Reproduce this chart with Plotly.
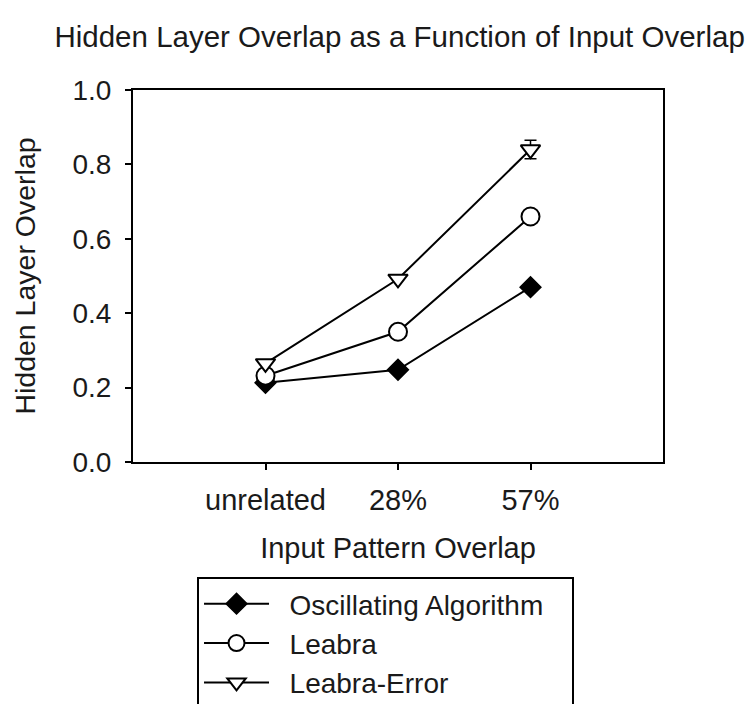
import plotly.graph_objects as go

categories = ["unrelated", "28%", "57%"]
oscillating = [0.213, 0.248, 0.470]
leabra = [0.232, 0.350, 0.660]
leabra_error = [0.265, 0.492, 0.840]
leabra_error_err = [0.0, 0.0, 0.025]
series_names = ["Oscillating Algorithm", "Leabra", "Leabra-Error"]

FONT = "Liberation Sans, Arial, sans-serif"
NB = "\u00a0\u00a0"
xpos = list(range(len(categories)))

fig = go.Figure()
fig.add_trace(go.Scatter(
    x=xpos, y=oscillating, mode="lines+markers", name=NB + series_names[0] + "\u00a0\u00a0\u00a0",
    line=dict(color="black", width=2),
    marker=dict(symbol="diamond", size=16, color="black", line=dict(color="black", width=1.5)),
))
fig.add_trace(go.Scatter(
    x=xpos, y=leabra, mode="lines+markers", name=NB + series_names[1],
    line=dict(color="black", width=2),
    marker=dict(symbol="circle", size=18, color="white", line=dict(color="black", width=2)),
))
fig.add_trace(go.Scatter(
    x=xpos, y=leabra_error, mode="lines+markers", name=NB + series_names[2],
    line=dict(color="black", width=2),
    marker=dict(symbol="triangle-down", size=17, color="white", line=dict(color="black", width=2)),
    error_y=dict(type="data", array=leabra_error_err, visible=True, color="black", thickness=1.5, width=6),
))

fig.update_layout(
    width=747, height=704,
    margin=dict(l=133, r=84, t=90, b=242, autoexpand=False),
    paper_bgcolor="white", plot_bgcolor="white",
    font=dict(family=FONT, color="#1a1a1a", size=28),
    title=dict(text="Hidden Layer Overlap as a Function of Input Overlap",
               x=0.535, xanchor="center", y=0.948, yanchor="middle",
               font=dict(size=29.5, family=FONT, color="#1a1a1a")),
    showlegend=True,
    legend=dict(
        x=0.1208, xanchor="left", y=-0.309, yanchor="top",
        bordercolor="black", borderwidth=2, bgcolor="white",
        font=dict(size=28, family=FONT, color="#1a1a1a"),
        tracegroupgap=0, itemwidth=65,
    ),
)
fig.update_xaxes(
    range=[-1, 3], tickmode="array", tickvals=xpos, ticktext=categories,
    showgrid=False, zeroline=False, showline=True, linecolor="black", linewidth=2,
    mirror=True, ticks="outside", ticklen=6, tickwidth=2, tickcolor="black",
    tickfont=dict(size=29), ticklabelstandoff=5,
    title=dict(text="Input Pattern Overlap", font=dict(size=29), standoff=23),
)
fig.update_yaxes(
    range=[0, 1.0], tickmode="array", tickvals=[0, 0.2, 0.4, 0.6, 0.8, 1.0],
    tickformat=".1f",
    showgrid=False, zeroline=False, showline=True, linecolor="black", linewidth=2,
    mirror=True, ticks="outside", ticklen=6, tickwidth=2, tickcolor="black",
    tickfont=dict(size=28), ticklabelstandoff=8,
    title=dict(text="Hidden Layer Overlap", font=dict(size=28.5), standoff=28),
)

fig.write_html("out.html")
